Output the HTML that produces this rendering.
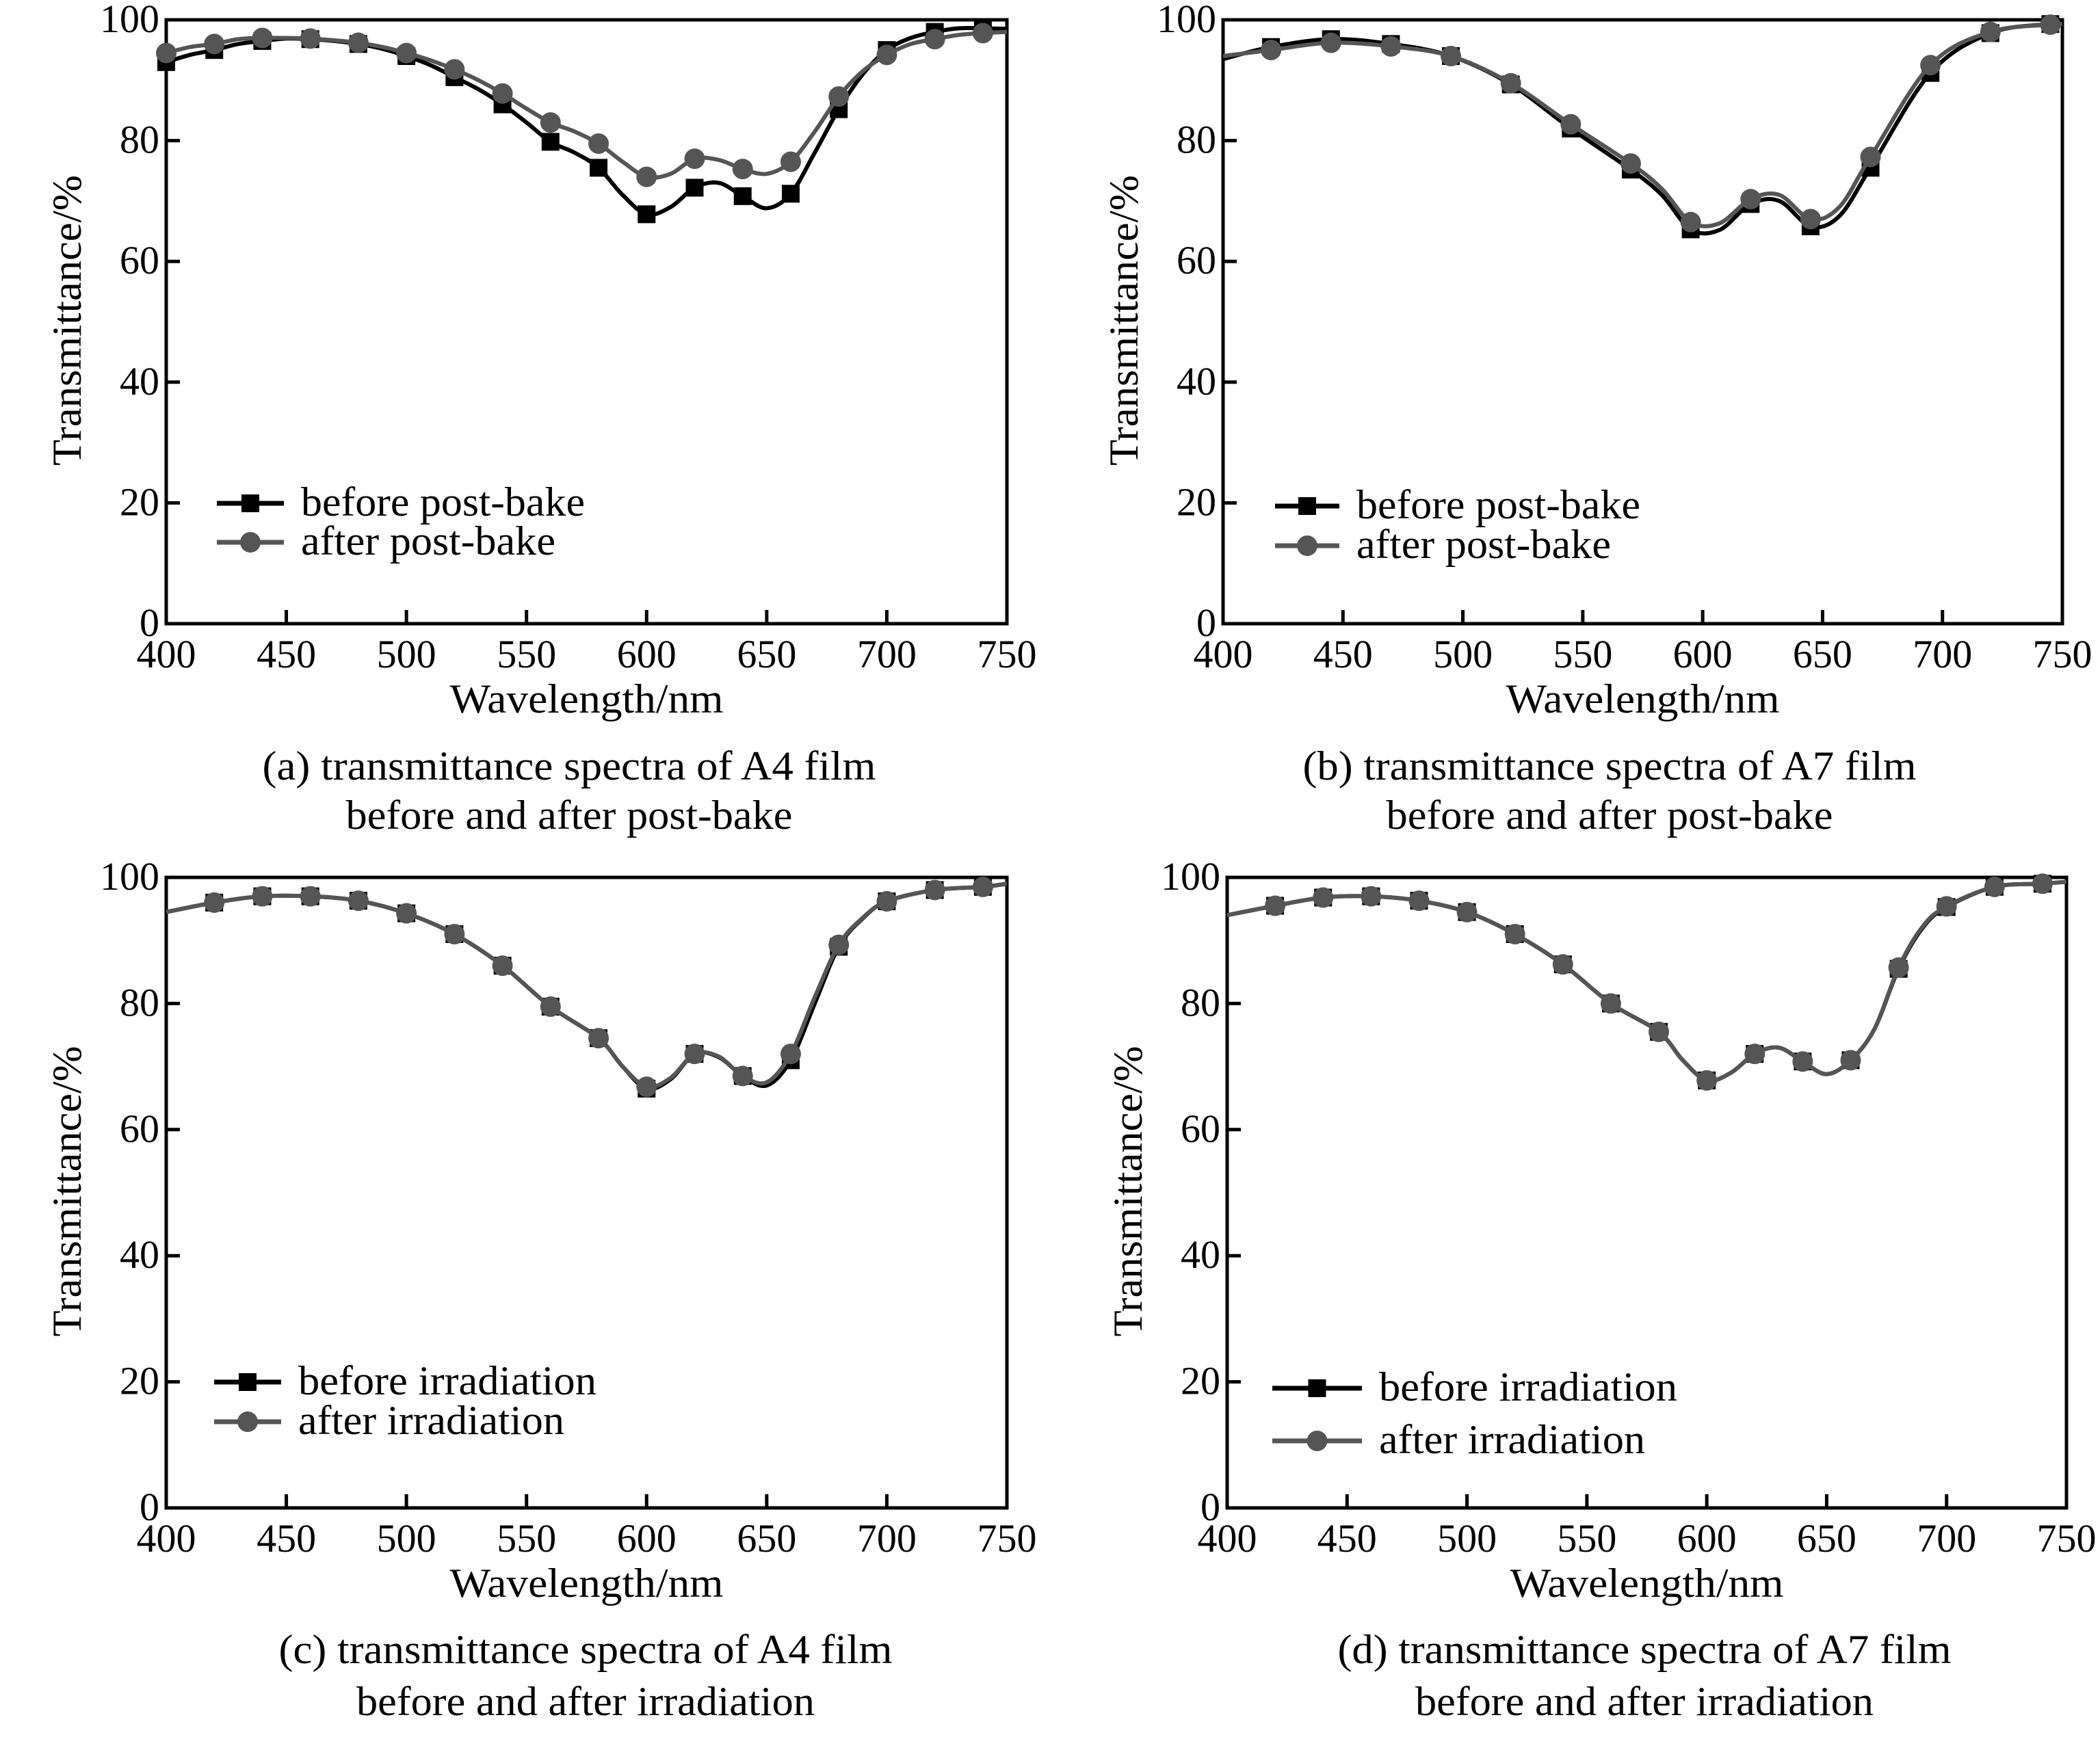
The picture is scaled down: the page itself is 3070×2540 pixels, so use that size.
<!DOCTYPE html>
<html><head><meta charset="utf-8"><style>
html,body{margin:0;padding:0;background:#fff;}
svg, svg text{font-family:"Liberation Serif","Times New Roman",serif;}
</style></head><body>
<svg id="fig" width="3070" height="2535" viewBox="0 0 3070 2535" xmlns="http://www.w3.org/2000/svg" font-family="Liberation Serif, serif"></svg>
<script>
// Panel (a) data
const aWl = [400,410,420,430,440,450,460,470,480,490,500,510,520,530,540,550,560,570,580,590,600,610,620,630,640,650,660,670,680,690,700,710,720,730,740,750];
const aBefore = [93,94.2,95,96,96.5,96.9,96.8,96.5,96,95.2,94,92.5,90.5,88.5,86,83,79.8,78,75.5,71,67.8,69,72.2,73,70.8,68.8,71.2,78,85.2,91,95,97,98,98.6,98.6,98.5];
const aAfter = [94.5,95.5,96,96.8,97,97,96.9,96.6,96.2,95.5,94.5,93.3,91.8,90,87.8,85.3,83,81.5,79.5,76.5,74,74.5,77,76.8,75.3,74.5,76.5,81.5,87.3,91.5,94.2,96,96.8,97.5,97.8,98];
const aMarkers = [400,420,440,460,480,500,520,540,560,580,600,620,640,660,680,700,720,740];
// Panel (b) data
const bWl = [400,420,445,470,495,520,545,570,583,595,607,620,632,645,657,670,695,720,745,750];
const bBefore = [93.5,95.5,96.8,96,94,89.3,82,75.2,71,65.3,65.2,69.5,70,65.8,67.5,75.5,91.2,97.8,99.3,99.4];
const bAfter = [94,95,96.2,95.6,94,89.5,82.7,76.2,72,66.5,66.3,70.3,71,67,69,77.3,92.5,98,99.2,99.3];
const bMarkers = [420,445,470,495,520,545,570,595,620,645,670,695,720,745];
// Panel (c) data
const cWl = [400,420,440,460,480,500,520,540,560,580,590,600,610,620,630,640,650,660,670,680,690,700,720,740,750];
const cBefore = [94.5,96,97,97,96.3,94.3,91,86,79.5,74.5,70,66.5,68,72,71.5,68.5,67,71,80,89,93.5,96.2,98,98.5,99];
const cAfter = [94.5,96,97,97,96.3,94.3,91,86,79.5,74.5,70,66.8,68.2,72,71.6,68.5,67.5,72,81,89.3,93.6,96.2,98,98.5,99];
const cMarkers = [420,440,460,480,500,520,540,560,580,600,620,640,660,680,700,720,740];
// Panel (d) data
const dWl = [400,420,440,460,480,500,520,540,560,580,590,600,610,620,630,640,650,660,670,680,690,700,720,740,750];
const dBefore = [94,95.5,96.8,97,96.3,94.5,91,86.2,80,75.5,71,67.8,69,72,73,70.8,68.8,71,76,85.5,92,95.3,98.5,99,99.3];
const dAfter = [94,95.5,96.8,97,96.3,94.5,91,86.2,80,75.5,71,67.8,69,72,73,70.8,68.8,71,76,85.7,92.2,95.4,98.5,99,99.3];
const dMarkers = [420,440,460,480,500,520,540,560,580,600,620,640,660,680,700,720,740];
const xTicks = [400,450,500,550,600,650,700,750];
const yTicks = [0,20,40,60,80,100];

const NS = "http://www.w3.org/2000/svg";
const svg = document.getElementById('fig');
function mk(tag, attrs, parent){const e=document.createElementNS(NS,tag);for(const k in attrs)e.setAttribute(k,attrs[k]);if(tag==='text')e.setAttribute('font-family','Liberation Serif, serif');(parent||svg).appendChild(e);return e;}

function smoothPath(pts){
  let d = "M"+pts[0][0]+","+pts[0][1];
  for(let i=0;i<pts.length-1;i++){
    const p0=pts[Math.max(i-1,0)],p1=pts[i],p2=pts[i+1],p3=pts[Math.min(i+2,pts.length-1)];
    const c1=[p1[0]+(p2[0]-p0[0])/6,p1[1]+(p2[1]-p0[1])/6];
    const c2=[p2[0]-(p3[0]-p1[0])/6,p2[1]-(p3[1]-p1[1])/6];
    d+=" C"+c1[0]+","+c1[1]+" "+c2[0]+","+c2[1]+" "+p2[0]+","+p2[1];
  }
  return d;
}

function panel(cfg){
  const g = mk('g',{});
  
  
  const L=cfg.L,R=cfg.R,T=cfg.T,B=cfg.B;
  const xs = v => L + (v-400)/350*(R-L);
  const ys = v => B - v/100*(B-T);
  const frame = mk('rect',{x:L,y:T,width:R-L,height:B-T,fill:'none',stroke:'#000','stroke-width':5},g);
  
  
  xTicks.forEach(t=>{
    const x=xs(t);
    const tk = mk('line',{x1:x,x2:x,y1:B,y2:B-20,stroke:'#000','stroke-width':5},g);
    
    
    const lb = mk('text',{x:x,y:B+64,'font-size':58,'text-anchor':'middle'},g);
    lb.textContent=t;
    
    
  });
  yTicks.forEach(t=>{
    const y=ys(t);
    const tk = mk('line',{x1:L,x2:L+20,y1:y,y2:y,stroke:'#000','stroke-width':5},g);
    
    
    const lb = mk('text',{x:L-10,y:y+18,'font-size':58,'text-anchor':'end'},g);
    lb.textContent=t;
    
    
  });
  const yt = mk('text',{x:0,y:0,'font-size':60,'text-anchor':'middle',transform:'translate('+(L-125)+','+((T+B)/2-2)+') rotate(-90)',textLength:425,lengthAdjust:'spacingAndGlyphs'},g);
  yt.textContent='Transmittance/%';
  
  
  const xt = mk('text',{x:(L+R)/2,y:B+130,'font-size':60,'text-anchor':'middle',textLength:400,lengthAdjust:'spacingAndGlyphs'},g);
  xt.textContent='Wavelength/nm';
  
  
  cfg.caption.forEach((c,i)=>{
    const ct = mk('text',{x:cfg.capX,y:cfg.capY[i],'font-size':60,'text-anchor':'middle',textLength:cfg.capW[i],lengthAdjust:'spacingAndGlyphs'},g);
    ct.textContent=c;
    
    
  });
  const series=[{v:cfg.before,col:'#000',m:'sq',name:'series-before'},{v:cfg.after,col:'#555',m:'ci',name:'series-after'}];
  [0,1].forEach(si=>{
    const s=series[si];
    const pts=cfg.wl.map((w,i)=>[xs(w),ys(s.v[i])]);
    const p = mk('path',{d:smoothPath(pts),fill:'none',stroke:s.col,'stroke-width':6,'stroke-linejoin':'round'},g);
    
    
    cfg.markers.forEach(w=>{
      const i=cfg.wl.indexOf(w); if(i<0)return;
      const x=xs(w),y=ys(s.v[i]);
      let m;
      if(s.m==='sq') m=mk('rect',{x:x-13,y:y-13,width:26,height:26,fill:s.col},g);
      else m=mk('circle',{cx:x,cy:y,r:15,fill:s.col},g);
      
      
    });
  });
  const lg = mk('g',{},g);
  
  
  cfg.legend.forEach((t,i)=>{
    const y=cfg.legY[i]; const col=i===0?'#000':'#555';
    mk('line',{x1:cfg.legX1,x2:cfg.legX2,y1:y,y2:y,stroke:col,'stroke-width':7},lg);
    const cx=(cfg.legX1+cfg.legX2)/2;
    if(i===0) mk('rect',{x:cx-13,y:y-13,width:26,height:26,fill:col},lg);
    else mk('circle',{cx:cx,cy:y,r:15,fill:col},lg);
    const tx = mk('text',{x:cfg.legX2+25,y:y+18,'font-size':60,textLength:cfg.legW[i],lengthAdjust:'spacingAndGlyphs'},lg);
    tx.textContent=t;
    
    
  });
}

panel({name:'panel-a',L:243,R:1472,T:29,B:912,wl:aWl,before:aBefore,after:aAfter,markers:aMarkers,
  caption:['(a) transmittance spectra of A4 film','before and after post-bake'],capX:832,capY:[1140,1212],capW:[897,653],
  legend:['before post-bake','after post-bake'],legX1:317,legX2:415,legY:[736,793],legW:[415,372]});
panel({name:'panel-b',L:1788,R:3015,T:29,B:912,wl:bWl,before:bBefore,after:bAfter,markers:bMarkers,
  caption:['(b) transmittance spectra of A7 film','before and after post-bake'],capX:2353,capY:[1140,1212],capW:[897,653],
  legend:['before post-bake','after post-bake'],legX1:1864,legX2:1958,legY:[740,798],legW:[415,372]});
panel({name:'panel-c',L:243,R:1472,T:1283,B:2205,wl:cWl,before:cBefore,after:cAfter,markers:cMarkers,
  caption:['(c) transmittance spectra of A4 film','before and after irradiation'],capX:856,capY:[2432,2508],capW:[897,670],
  legend:['before irradiation','after irradiation'],legX1:313,legX2:411,legY:[2021,2079],legW:[436,389]});
panel({name:'panel-d',L:1794,R:3021,T:1283,B:2205,wl:dWl,before:dBefore,after:dAfter,markers:dMarkers,
  caption:['(d) transmittance spectra of A7 film','before and after irradiation'],capX:2404,capY:[2432,2508],capW:[897,670],
  legend:['before irradiation','after irradiation'],legX1:1860,legX2:1991,legY:[2030,2107],legW:[436,389]});
</script>
</body></html>
